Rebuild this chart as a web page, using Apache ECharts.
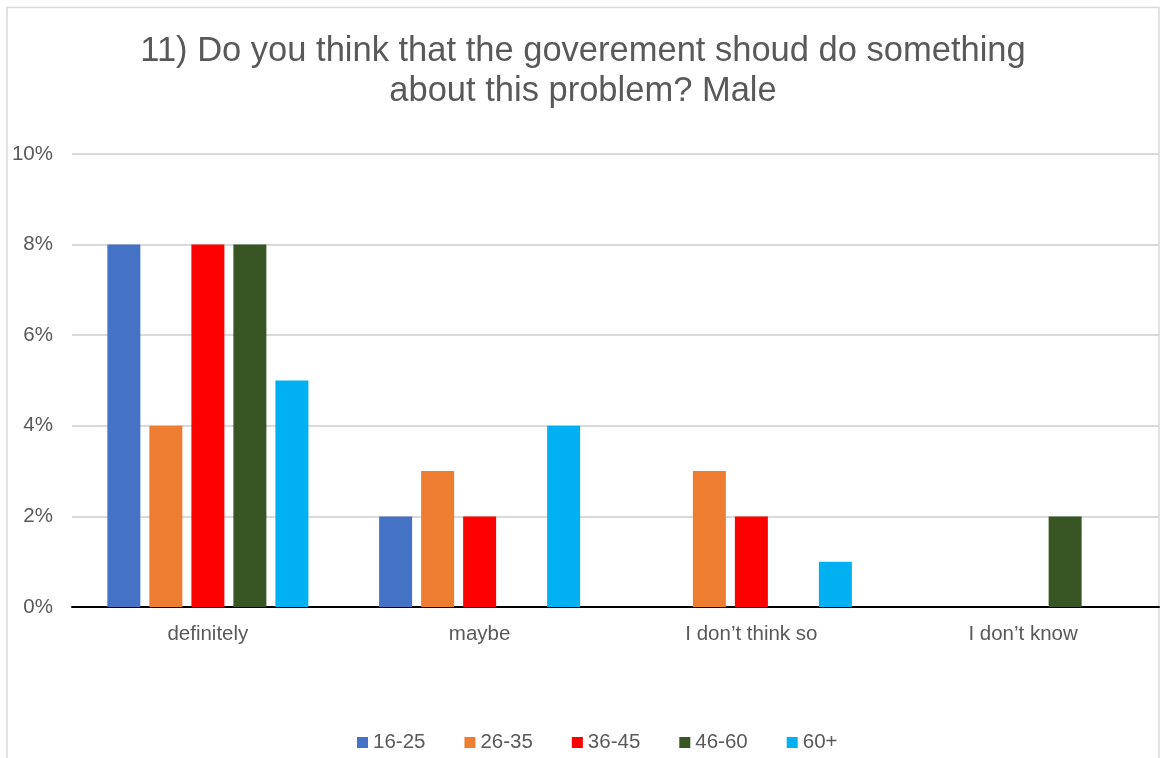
<!DOCTYPE html>
<html>
<head>
<meta charset="utf-8">
<script src="https://cdn.jsdelivr.net/npm/echarts@6/dist/echarts.min.js"></script>
<style>
html,body{margin:0;padding:0;background:#fff;}
#chart{width:1160px;height:758px;}
</style>
</head>
<body>
<div id="chart"></div>
<script>
const titleText = "11) Do you think that the goverement shoud do something\nabout this problem? Male";
const categories = ["definitely", "maybe", "I don\u2019t think so", "I don\u2019t know"];
const seriesNames = ["16-25", "26-35", "36-45", "46-60", "60+"];
const age16_25 = [8, 2, 0, 0];
const age26_35 = [4, 3, 3, 0];
const age36_45 = [8, 2, 2, 0];
const age46_60 = [8, 0, 0, 2];
const age60plus = [5, 4, 1, 0];
const yTicks = { min: 0, max: 10, interval: 2 };
const colors = ["#4472C4", "#ED7D31", "#FF0000", "#375623", "#00B0F0"];

const allData = [age16_25, age26_35, age36_45, age46_60, age60plus];
const font = "'Liberation Sans', Arial, sans-serif";

const chart = echarts.init(document.getElementById('chart'), null, { renderer: 'canvas' });
chart.setOption({
  animation: false,
  backgroundColor: '#fff',
  color: colors,
  graphic: [{
    type: 'rect',
    shape: { x: 7, y: 7.5, width: 1152, height: 800 },
    style: { fill: 'none', stroke: '#d9d9d9', lineWidth: 1.5 },
    silent: true, z: -1
  }],
  title: {
    text: titleText,
    left: 583,
    textAlign: 'center',
    top: 31,
    padding: 0,
    textStyle: { fontFamily: font, fontSize: 34.5, lineHeight: 40, fontWeight: 'normal', color: '#595959' }
  },
  legend: {
    data: seriesNames,
    left: 357,
    top: 732,
    padding: 0,
    icon: 'rect',
    itemWidth: 11,
    itemHeight: 11,
    itemGap: 39,
    textStyle: { fontFamily: font, fontSize: 20.5, color: '#595959' }
  },
  grid: { left: 72, right: 1, top: 154, bottom: 151 },
  xAxis: {
    type: 'category',
    data: categories,
    axisLine: { show: true, lineStyle: { color: '#000', width: 2 } },
    axisTick: { show: false },
    axisLabel: { fontFamily: font, fontSize: 20.5, color: '#595959', margin: 17 }
  },
  yAxis: {
    type: 'value',
    min: yTicks.min, max: yTicks.max, interval: yTicks.interval,
    axisLine: { show: false },
    axisTick: { show: false },
    axisLabel: { fontFamily: font, fontSize: 20.5, color: '#595959', margin: 19, formatter: '{value}%' },
    splitLine: { lineStyle: { color: '#d9d9d9', width: 2 } }
  },
  series: seriesNames.map((name, i) => ({
    name: name,
    type: 'bar',
    data: allData[i],
    barWidth: 33,
    barGap: '27.3%',
    itemStyle: { color: colors[i] }
  }))
});
</script>
</body>
</html>
